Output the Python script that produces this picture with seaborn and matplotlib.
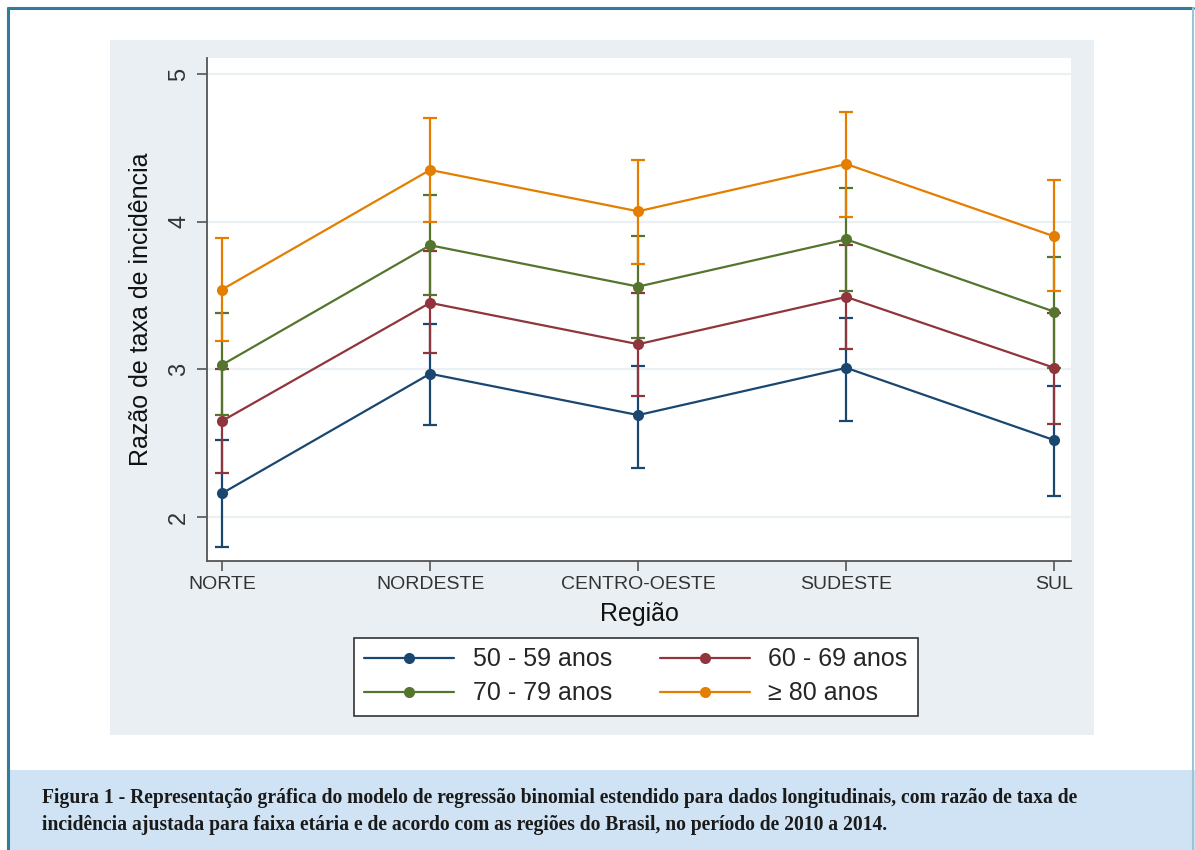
import matplotlib
matplotlib.use("Agg")
import matplotlib.pyplot as plt
import seaborn as sns
import pandas as pd
import numpy as np
from matplotlib.patches import Rectangle
from matplotlib.lines import Line2D

regions = ["NORTE", "NORDESTE", "CENTRO-OESTE", "SUDESTE", "SUL"]
groups = ["50 - 59 anos", "60 - 69 anos", "70 - 79 anos", "\u2265 80 anos"]

irr_50 = [2.16, 2.97, 2.69, 3.01, 2.52]
irr_60 = [2.65, 3.45, 3.17, 3.49, 3.01]
irr_70 = [3.03, 3.84, 3.56, 3.88, 3.39]
irr_80 = [3.54, 4.35, 4.07, 4.39, 3.90]

lo_50 = [1.80, 2.62, 2.33, 2.65, 2.14]
hi_50 = [2.52, 3.31, 3.02, 3.35, 2.89]
lo_60 = [2.30, 3.11, 2.82, 3.14, 2.63]
hi_60 = [3.00, 3.80, 3.52, 3.84, 3.38]
lo_70 = [2.69, 3.50, 3.21, 3.53, 3.01]
hi_70 = [3.38, 4.18, 3.90, 4.23, 3.76]
lo_80 = [3.19, 4.00, 3.71, 4.03, 3.53]
hi_80 = [3.89, 4.70, 4.42, 4.74, 4.28]

colors = ["#1A476F", "#90353B", "#55752F", "#E37E00"]

values = [irr_50, irr_60, irr_70, irr_80]
lows = [lo_50, lo_60, lo_70, lo_80]
highs = [hi_50, hi_60, hi_70, hi_80]

rows = []
for g, vals in zip(groups, values):
    for i, (r, v) in enumerate(zip(regions, vals)):
        rows.append({"pos": i, "Região": r, "grupo": g, "irr": v})
df = pd.DataFrame(rows)

sns.set_theme(style="white")
plt.rcParams["font.family"] = ["Liberation Sans", "DejaVu Sans"]

W, H = 1195, 850
fig = plt.figure(figsize=(W / 100, H / 100), dpi=100)
fig.patch.set_facecolor("white")

# grey graph panel
fig.patches.append(Rectangle((110 / W, 1 - 735 / H), (1094 - 110) / W, (735 - 40) / H,
                             transform=fig.transFigure, facecolor="#E9EFF3",
                             edgecolor="none", zorder=-5))
# caption band
fig.patches.append(Rectangle((8 / W, 0), 1 - 8 / W, 80 / H,
                             transform=fig.transFigure, facecolor="#CFE3F4",
                             edgecolor="none", zorder=-5))
# outer border
bc = "#2F7C9C"
fig.lines.append(Line2D([8 / W, 8 / W], [0, 1 - 8 / H], transform=fig.transFigure, color=bc, lw=2.2, zorder=-4))
fig.lines.append(Line2D([8 / W, 1193 / W], [1 - 8 / H, 1 - 8 / H], transform=fig.transFigure, color=bc, lw=2.2, zorder=-4))
fig.lines.append(Line2D([1193 / W, 1193 / W], [0, 1 - 8 / H], transform=fig.transFigure, color="#9CC3D8", lw=1.5, zorder=-4))

ax = fig.add_axes([207 / W, 1 - 561 / H, (1071 - 207) / W, (561 - 58) / H])
ax.set_zorder(1)
ax.set_facecolor("white")

for yv in [2, 3, 4, 5]:
    ax.axhline(yv, color="#EAF0F4", lw=1.6, zorder=0)

for c, vals, lo, hi in zip(colors, values, lows, highs):
    v = np.array(vals)
    yerr = np.vstack([v - np.array(lo), np.array(hi) - v])
    ax.errorbar(np.arange(len(regions)), v, yerr=yerr, fmt="none", ecolor=c,
                elinewidth=1.6, capsize=5, capthick=1.6, zorder=2)

sns.lineplot(data=df, x="pos", y="irr", hue="grupo", palette=colors,
             hue_order=groups, marker="o", markersize=8, markeredgewidth=0,
             linewidth=1.6, ax=ax, legend=False, zorder=3)

ax.set_xlim(-0.072, 4.08)
ax.set_ylim(1.702, 5.108)
ax.set_xticks(range(len(regions)))
ax.set_xticklabels(regions, fontsize=14, color="#333333")
ax.set_yticks([2, 3, 4, 5])
ax.set_yticklabels(["2", "3", "4", "5"], fontsize=17, color="#333333",
                   rotation=90, va="center")
ax.tick_params(axis="both", which="major", length=7, width=1.2, color="#555555",
               bottom=True, left=True, pad=4)
ax.tick_params(axis="y", pad=5)
for s in ["top", "right"]:
    ax.spines[s].set_visible(False)
for s in ["left", "bottom"]:
    ax.spines[s].set_color("#555555")
    ax.spines[s].set_linewidth(1.3)
ax.set_xlabel("Região", fontsize=18, color="#111111", labelpad=6)
ax.set_ylabel("Razão de taxa de incidência", fontsize=18, color="#111111", labelpad=11)

handles = [Line2D([0], [0], color=c, lw=1.6, marker="o", markersize=8,
                  markeredgewidth=0) for c in colors]
order = [0, 2, 1, 3]
leg = fig.legend([handles[i] for i in order], [groups[i] for i in order],
                 loc="upper center", bbox_to_anchor=(636 / W, 1 - 625 / H),
                 ncol=2, fontsize=18, frameon=True, fancybox=False, handlelength=3.6,
                 columnspacing=1.9, handletextpad=0.75, borderpad=0.4, labelspacing=0.4)
leg.get_frame().set_edgecolor("#333333")
leg.get_frame().set_linewidth(1.2)
leg.get_frame().set_facecolor("white")
leg.get_frame().set_alpha(1)

cap1 = ("Figura 1 - Representação gráfica do modelo de regressão binomial estendido para dados "
        "longitudinais, com razão de taxa de")
cap2 = "incidência ajustada para faixa etária e de acordo com as regiões do Brasil, no período de 2010 a 2014."
fig.text(42 / W, 1 - 798 / H, cap1, fontsize=14.1, fontweight="bold", family="Liberation Serif",
         color="#1a1a1a", va="center", ha="left")
fig.text(42 / W, 1 - 825 / H, cap2, fontsize=14.1, fontweight="bold", family="Liberation Serif",
         color="#1a1a1a", va="center", ha="left")

fig.savefig("out.png", dpi=100, facecolor="white")
